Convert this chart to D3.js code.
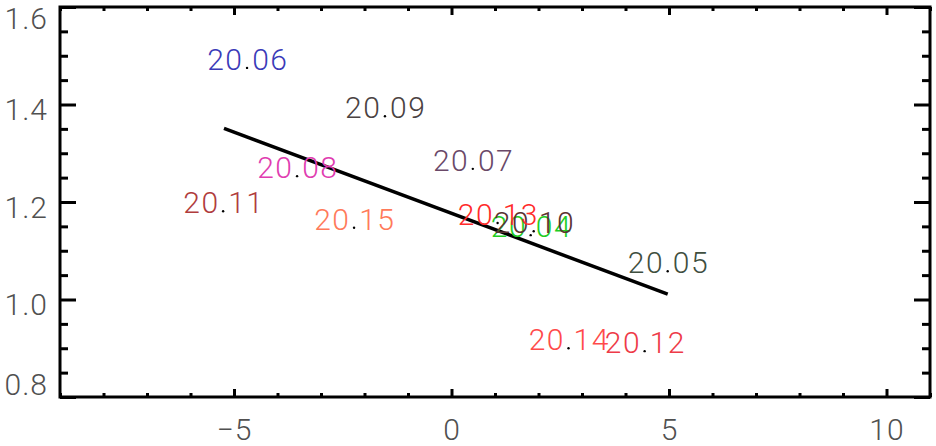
<!DOCTYPE html>
<html><head><meta charset="utf-8">
<script src="https://cdn.jsdelivr.net/npm/d3@7"></script>
<style>body{margin:0;background:#fff}svg{display:block}</style>
</head><body><svg id="c" width="936" height="446"></svg>
<script>
// ---- data ----
const years   = ["2004","2005","2006","2007","2008","2009","2010","2011","2012","2013","2014","2015"];
const xValues = [1.82, 4.97, -4.70, 0.49, -3.55, -1.53, 1.89, -5.25, 4.44, 1.06, 2.69, -2.24];
const yValues = [1.130, 1.056, 1.473, 1.266, 1.251, 1.374, 1.138, 1.179, 0.892, 1.155, 0.898, 1.145];
const colors  = ["#22cc22","#3f4f3f","#3a3ab8","#6a4868","#e03cb0","#4a4242","#5a3232","#b03c3c","#ee3a48","#ff2a2a","#ff4a4a","#ff7a5a"];
const fitX = [-5.23, 4.97];
const fitY = [1.351, 1.011];
const xTicks = [-5, 0, 5, 10];
const yTicks = [0.8, 1.0, 1.2, 1.4, 1.6];
const xDomain = [-9, 11];
const yDomain = [0.8, 1.6];

// ---- layout ----
const L = 60, R = 930, T = 7, B = 397;
const svg = d3.select("#c");
const x = d3.scaleLinear().domain(xDomain).range([L, R]);
const y = d3.scaleLinear().domain(yDomain).range([B, T]);
const font = "Roboto, 'Liberation Sans', Arial, sans-serif";
const weight = 300;

const xMinor = d3.range(xDomain[0], xDomain[1] + 0.001, 1);
const yMinor = d3.range(0, 17).map(i => yDomain[0] + i * 0.05);
const isMajorX = v => xTicks.some(t => Math.abs(t - v) < 1e-6);
const isMajorY = v => yTicks.some(t => Math.abs(t - v) < 1e-6);

function styleAxis(g) {
  g.select(".domain").remove();
  g.selectAll("line").attr("stroke", "#000").attr("stroke-width", 3);
  g.selectAll("text").remove();
}
svg.append("g").attr("transform", `translate(0,${B})`).call(d3.axisBottom(x).tickValues(xMinor).tickSizeOuter(0)).call(styleAxis)
  .selectAll(".tick line").attr("y2", d => isMajorX(d) ? -8 : -4);
svg.append("g").attr("transform", `translate(0,${T})`).call(d3.axisTop(x).tickValues(xMinor).tickSizeOuter(0)).call(styleAxis)
  .selectAll(".tick line").attr("y2", d => isMajorX(d) ? 8 : 4);
svg.append("g").attr("transform", `translate(${L},0)`).call(d3.axisLeft(y).tickValues(yMinor).tickSizeOuter(0)).call(styleAxis)
  .selectAll(".tick line").attr("x2", d => isMajorY(d) ? 16 : 8);
svg.append("g").attr("transform", `translate(${R},0)`).call(d3.axisRight(y).tickValues(yMinor).tickSizeOuter(0)).call(styleAxis)
  .selectAll(".tick line").attr("x2", d => isMajorY(d) ? -16 : -8);

// frame
svg.append("rect").attr("x", L).attr("y", T).attr("width", R - L).attr("height", B - T)
  .attr("fill", "none").attr("stroke", "#000").attr("stroke-width", 3);

// tick labels
const capH = 21;
svg.append("g").selectAll("text").data(yTicks).join("text")
  .attr("x", 48).attr("text-anchor", "end")
  .attr("y", d => {
    let c = y(d) + 5;
    c = Math.max(c, T + 1 + capH / 2);
    c = Math.min(c, B - 2 - capH / 2);
    return c + capH / 2;
  })
  .attr("font-family", font).attr("font-weight", weight).attr("font-size", 30).attr("fill", "#505050")
  .attr("letter-spacing", 1).text(d => d.toFixed(1));
svg.append("g").selectAll("text").data(xTicks).join("text")
  .attr("x", d => x(d) + 0.5).attr("y", 440).attr("text-anchor", "middle")
  .attr("font-family", font).attr("font-weight", weight).attr("font-size", 30).attr("fill", "#505050")
  .attr("letter-spacing", 1).text(d => d < 0 ? "\u2212" + Math.abs(d) : String(d));

// fit line
svg.append("line")
  .attr("x1", x(fitX[0])).attr("y1", y(fitY[0]))
  .attr("x2", x(fitX[1])).attr("y2", y(fitY[1]))
  .attr("stroke", "#000").attr("stroke-width", 3.5).attr("stroke-linecap", "butt");

// labels
const pts = years.map((yr, i) => ({yr, x: xValues[i], y: yValues[i], c: colors[i]}));
const lab = svg.append("g").selectAll("text").data(pts).join("text")
  .attr("x", d => x(d.x) + 0.75).attr("y", d => y(d.y) + 1)
  .attr("text-anchor", "middle").attr("letter-spacing", 1.5)
  .attr("font-family", font).attr("font-weight", weight).attr("font-size", 30).attr("fill", d => d.c);
lab.append("tspan").text(d => d.yr.slice(0, 2));
lab.append("tspan").attr("fill-opacity", 0).text(".");
lab.append("tspan").text(d => d.yr.slice(2));
svg.append("g").selectAll("circle").data(pts).join("circle")
  .attr("cx", d => x(d.x)).attr("cy", d => y(d.y) - 1).attr("r", 1.2).attr("fill", "#000");
</script></body></html>
